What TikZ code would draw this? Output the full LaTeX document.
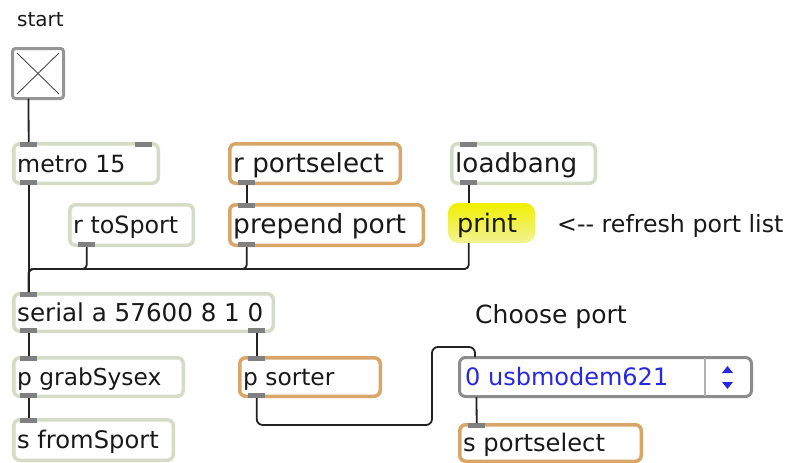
\documentclass[tikz,border=0pt]{standalone}
\usepackage{fontspec}
\setmainfont{DejaVu Sans}
\definecolor{objgreen}{RGB}{212,220,197}
\definecolor{objorange}{RGB}{217,166,106}
\definecolor{portgray}{RGB}{128,128,128}
\definecolor{cordcol}{RGB}{34,34,34}
\definecolor{txtcol}{RGB}{25,25,25}
\definecolor{menublue}{RGB}{40,40,225}
\definecolor{menugray}{RGB}{140,140,140}
\definecolor{toggray}{RGB}{150,150,150}
\definecolor{yeltop}{RGB}{240,240,0}
\definecolor{yelbot}{RGB}{242,242,150}
\tikzset{
  objg/.style={draw=objgreen, line width=3.5pt, rounded corners=6pt, fill=white, inner sep=0pt},
  objo/.style={draw=objorange, line width=3.5pt, rounded corners=6pt, fill=white, inner sep=0pt},
  txt/.style={inner sep=0pt, text=txtcol},
  port/.style={fill=portgray, draw=none, minimum width=17pt, minimum height=5pt, inner sep=0pt},
  cord/.style={draw=cordcol, line width=1.8pt, rounded corners=4pt},
  togbox/.style={draw=toggray, line width=3pt, rounded corners=3pt, fill=white, inner sep=0pt},
  xline/.style={draw=black!70, line width=0.9pt},
  menubox/.style={draw=menugray, line width=3pt, rounded corners=6pt, fill=white, inner sep=0pt},
  divider/.style={draw=black!30, line width=2pt},
  printbox/.style={top color=yeltop, bottom color=yelbot, draw=none, rounded corners=10pt, inner sep=0pt},
}
% #1 font size, #2 name, #3 x1, #4 y1, #5 x2, #6 y2, #7 style, #8 text
\newcommand\maxobj[8][24]{%
  \node[#7, minimum width={#5-#3-3.5}, minimum height={#6-#4-3.5}] (#2) at ({(#3+#5)/2},{(#4+#6)/2}) {};
  \node[txt, font=\fontsize{#1}{#1}\selectfont, anchor=base west] (#2-t) at ({#3+5},{(#4+#6)/2+8.5}) {#8};
}
\newcommand\inport[3]{\node[port, anchor=north west] (#1) at (#2,#3) {};}
\newcommand\outport[3]{\node[port, anchor=south west] (#1) at (#2,#3) {};}
\begin{document}
\begin{tikzpicture}[x=1pt,y=-1pt]
\fill[white] (0,0) rectangle (787,463);
\useasboundingbox (0,0) rectangle (787,463);

% label start
\node[txt, font=\fontsize{20}{22}\selectfont, anchor=base west] (startlbl) at (17,27) {start};

% toggle
\node[togbox, minimum width=51, minimum height=50] (tog) at (38,73.5) {};
\draw[xline] (17,53) -- (59,94);
\draw[xline] (59,53) -- (17,94);
\coordinate (tog-out) at (28.5,98.5);

% objects
\maxobj[23.7]{metro}{12}{142}{160}{185}{objg}{metro 15}
\inport{metro-i}{20}{142}\inport{metro-i2}{135}{142}\outport{metro-o}{20}{185}

\maxobj[26.2]{rps}{228}{142}{402}{185}{objo}{r portselect}
\outport{rps-o}{238}{185}

\maxobj[26.2]{lb}{450}{142}{597}{185}{objg}{loadbang}
\inport{lb-i}{460}{142}\outport{lb-o}{460}{185}

\maxobj[23.8]{rts}{68}{203}{195}{247}{objg}{r toSport}
\outport{rts-o}{78}{247}

\maxobj[26.5]{prep}{228}{203}{425}{247}{objo}{prepend port}
\inport{prep-i}{238}{203}\outport{prep-o}{238}{247}

% print (highlighted)
\node[printbox, minimum width=87, minimum height=40] (print) at (491.5,223) {};
\node[txt, font=\fontsize{25.5}{26}\selectfont, anchor=base west] (print-t) at (457,232) {print};

\node[txt, font=\fontsize{23.7}{26}\selectfont, anchor=base west] (refresh) at (557,232) {<{-}{-} refresh port list};

\maxobj[24.6]{serial}{12}{292}{275}{333}{objg}{serial a 57600 8 1 0}
\inport{serial-i}{20}{292}\outport{serial-o}{20}{333}\outport{serial-o2}{248}{333}

\maxobj[23.3]{grab}{12}{356}{185}{398}{objg}{p grabSysex}
\inport{grab-i}{20}{356}\outport{grab-o}{20}{398}

\maxobj[23.3]{sorter}{238}{356}{382}{398}{objo}{p sorter}
\inport{sorter-i}{248}{356}\outport{sorter-o}{248}{398}

\maxobj[24.2]{fs}{12}{418}{175}{462}{objg}{s fromSport}
\inport{fs-i}{20}{418}

\node[txt, font=\fontsize{25}{26}\selectfont, anchor=base west] (choose) at (475,323) {Choose port};

% umenu
\node[menubox, minimum width=292, minimum height=39] (umenu) at (605.5,377) {};
\draw[divider] (705,358) -- (705,396);
\fill[menublue] (722,373) -- (733,373) -- (727.5,366) -- cycle;
\fill[menublue] (722,382) -- (733,382) -- (727.5,389) -- cycle;
\node[txt, text=menublue, font=\fontsize{24}{26}\selectfont, anchor=base west] (umenu-t) at (465,385.5) {0 usbmodem621};
\coordinate (umenu-in) at (475,357);
\coordinate (umenu-out) at (476.5,397);

\maxobj[24.2]{sp}{458}{423}{643}{463}{objo}{s portselect}
\inport{sp-i}{468}{423}

% connections
\coordinate (busy) at (0,269);
\coordinate (bendA) at (432,425);
\coordinate (bendB) at (475,347);
\draw[cord] (tog-out) -- (metro-i.north);
\draw[cord] (metro-o.south) -- (serial-i.north);
\draw[cord] (rts-o.south) -- (rts-o.south |- busy) -| (serial-i.north);
\draw[cord] (prep-o.south) -- (prep-o.south |- busy) -| (serial-i.north);
\draw[cord] (print.south -| lb-o.south) -- (lb-o.south |- busy) -| (serial-i.north);
\draw[cord] (rps-o.south) -- (prep-i.north);
\draw[cord] (lb-o.south) -- (lb-o.south |- print.north);
\draw[cord] (serial-o.south) -- (grab-i.north);
\draw[cord] (grab-o.south) -- (fs-i.north);
\draw[cord] (serial-o2.south) -- (sorter-i.north);
\draw[cord, rounded corners=6pt] (sorter-o.south) |- (bendA) |- (bendB) -- (umenu-in);
\draw[cord] (umenu-out) -- (sp-i.north);
\end{tikzpicture}
\end{document}
